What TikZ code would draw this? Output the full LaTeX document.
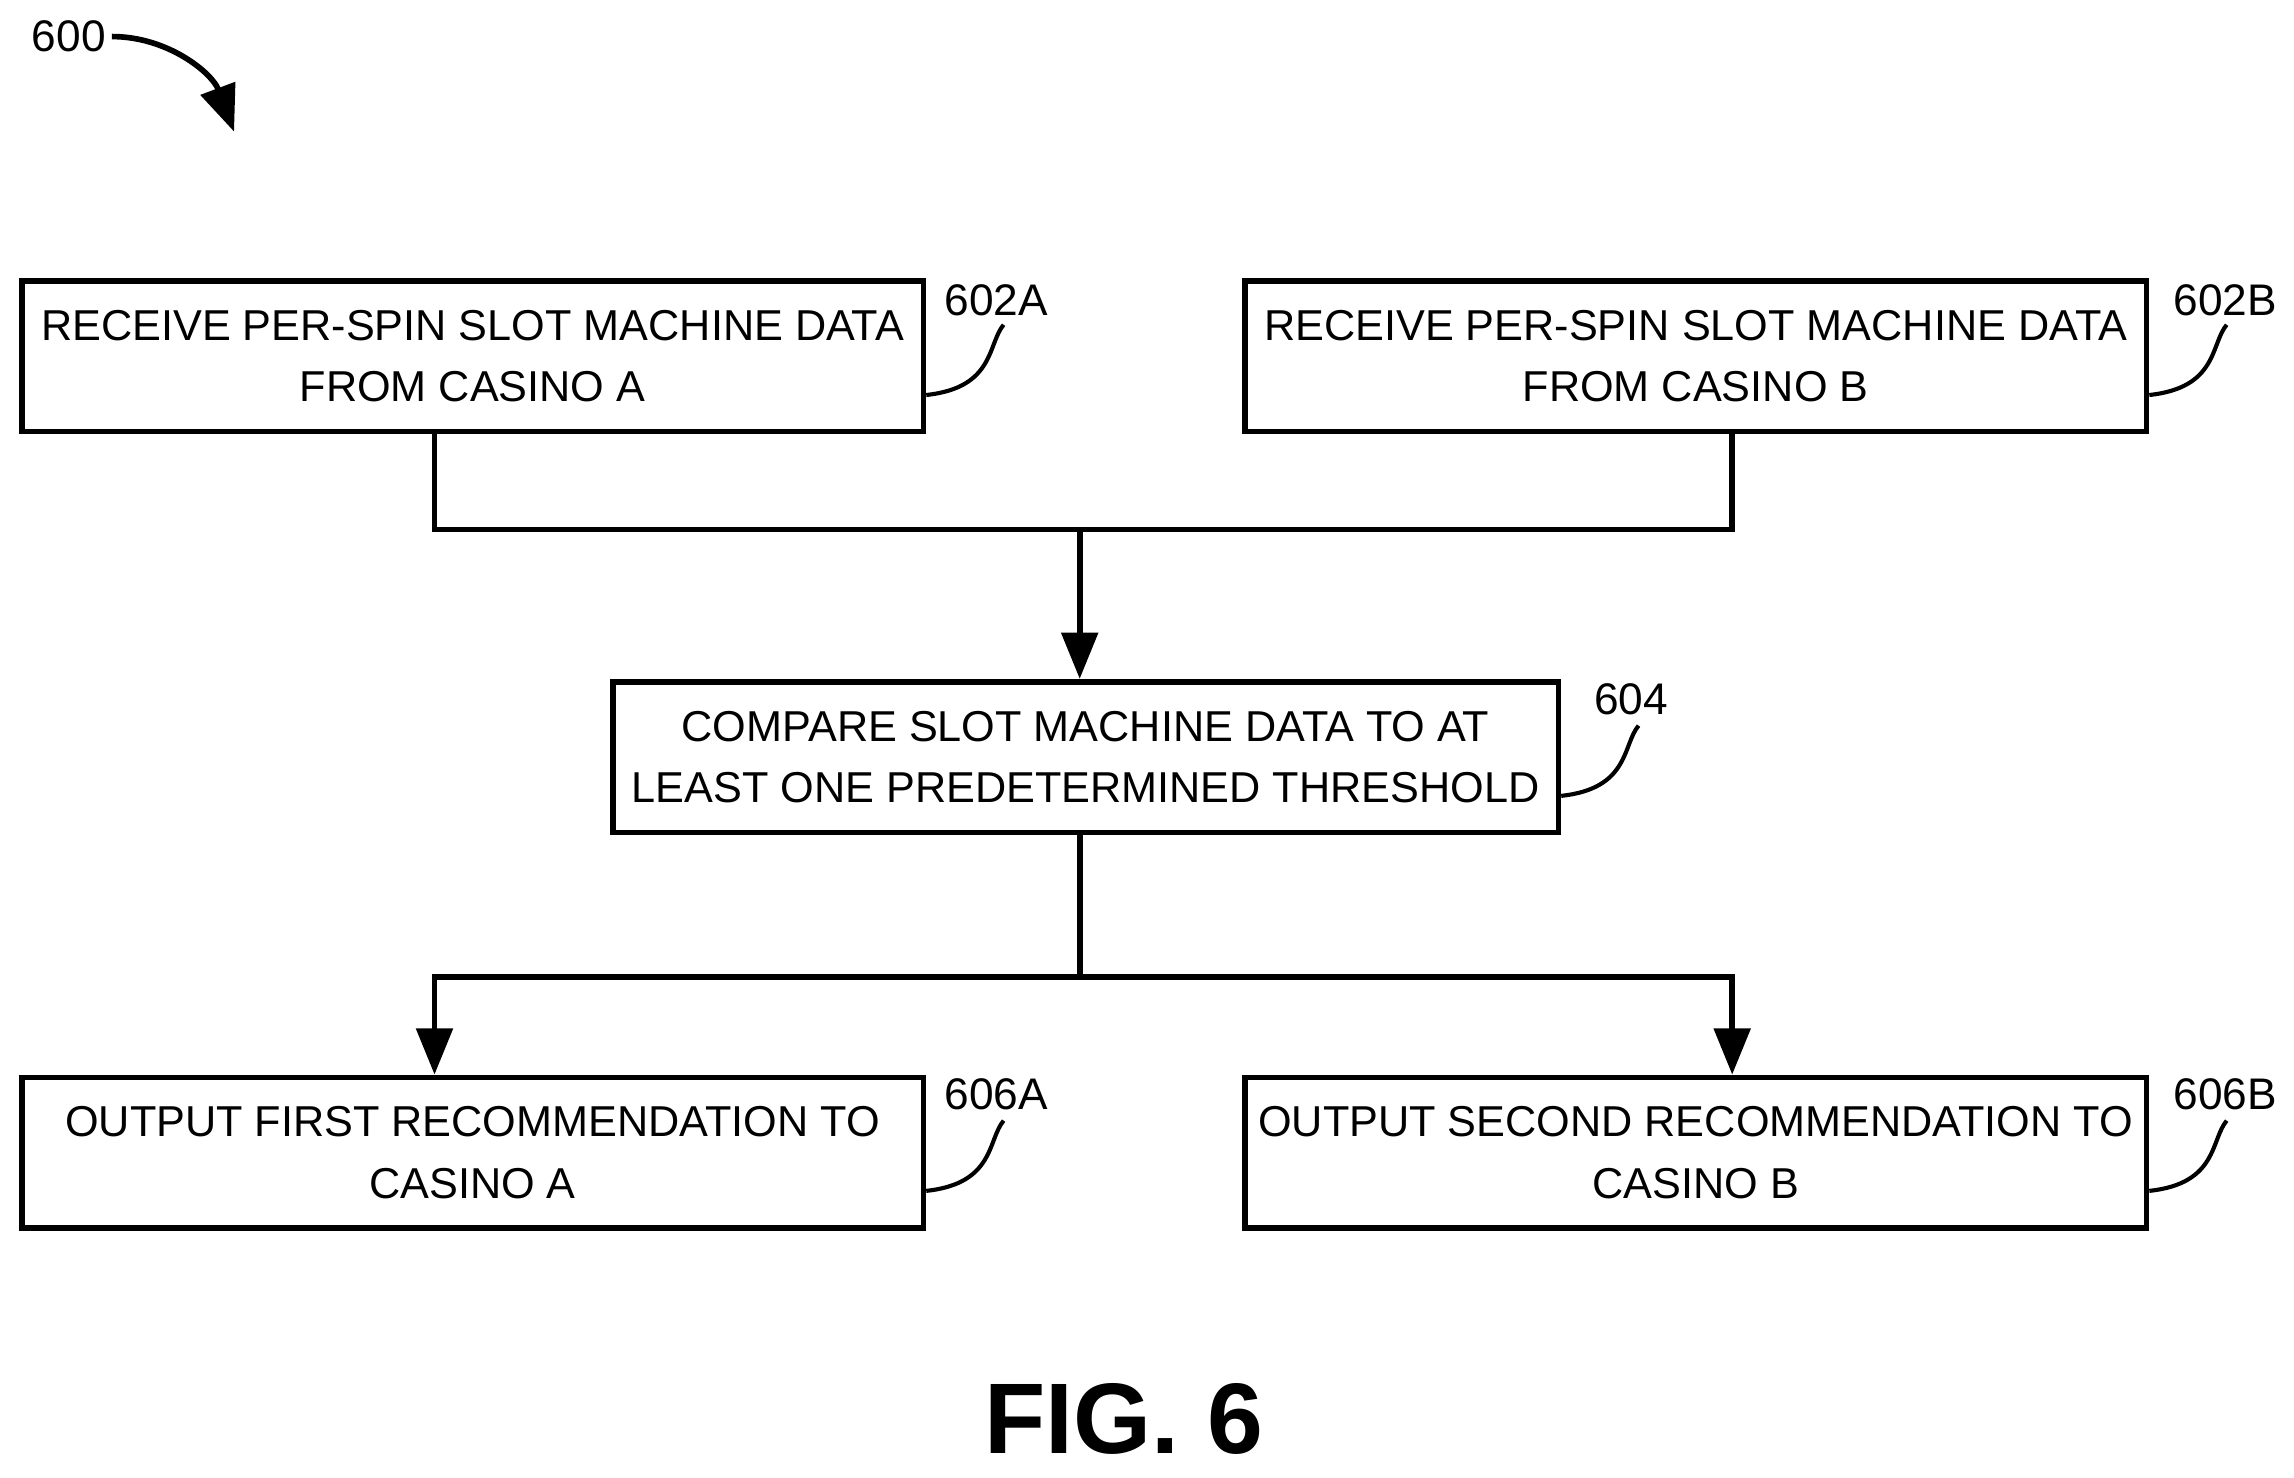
\documentclass[tikz,border=0pt]{standalone}
\usepackage{fontspec}
\setmainfont{Liberation Sans}
\usetikzlibrary{arrows.meta}
\begin{document}
\begin{tikzpicture}[x=0.01cm,y=-0.01cm,
  box/.style={draw,line width=1.1pt,inner sep=0pt,align=center,minimum width=6.16cm,minimum height=1.03cm,font=\fontsize{8.4}{12}\selectfont},
  lbl/.style={font=\fontsize{8.6}{10}\selectfont,inner sep=1pt},
  ln/.style={line width=1.1pt},
  arr/.style={ln,-{Triangle[length=9pt,width=7pt]}},
  sq/.style={line width=0.8pt}]
\useasboundingbox (0,0) rectangle (1568,1010);
\node[box] (a) at (323,243.5) {RECEIVE PER-SPIN SLOT MACHINE DATA\\FROM CASINO A};
\node[box] (b) at (1159,243.5) {RECEIVE PER-SPIN SLOT MACHINE DATA\\FROM CASINO B};
\node[box,minimum width=6.46cm] (c) at (742,517.5) {COMPARE SLOT MACHINE DATA TO AT\\LEAST ONE PREDETERMINED THRESHOLD};
\node[box] (d) at (323,788) {OUTPUT FIRST RECOMMENDATION TO\\CASINO A};
\node[box] (e) at (1159,788) {OUTPUT SECOND RECOMMENDATION TO\\CASINO B};
\coordinate (j1) at (738,362);
\coordinate (j2) at (738,668);
\draw[ln] (a.south -| 297,0) -- (297,362) -- (1184,362) -- (b.south -| 1184,0);
\draw[arr] (j1) -- (c.north -| j1);
\draw[ln] (c.south -| j2) -- (j2);
\draw[arr] (j2) -- (297,668) -- (d.north -| 297,0);
\draw[arr] (j2) -- (1184,668) -- (e.north -| 1184,0);
\node[lbl] (l1) at (681,205) {602A};
\draw[sq] (a.east |- 0,270) .. controls (680,265) and (675,235) .. (686,222);
\node[lbl] (l2) at (1521,205) {602B};
\draw[sq] (b.east |- 0,270) .. controls (1516,265) and (1511,235) .. (1522,222);
\node[lbl] (l3) at (1115,478) {604};
\draw[sq] (c.east |- 0,544) .. controls (1114,539) and (1109,509) .. (1120,496);
\node[lbl] (l4) at (681,748) {606A};
\draw[sq] (d.east |- 0,814) .. controls (680,809) and (675,779) .. (686,766);
\node[lbl] (l5) at (1521,748) {606B};
\draw[sq] (e.east |- 0,814) .. controls (1516,809) and (1511,779) .. (1522,766);
\node[lbl] (l0) at (47,25) {600};
\draw[line width=1.1pt,-{Triangle[length=9pt,width=7pt]}] (l0.east) .. controls (115,25) and (145,50) .. (160,90);
\node[font=\fontsize{19.5}{22}\selectfont\bfseries] (fig) at (768,970) {FIG. 6};
\end{tikzpicture}
\end{document}
